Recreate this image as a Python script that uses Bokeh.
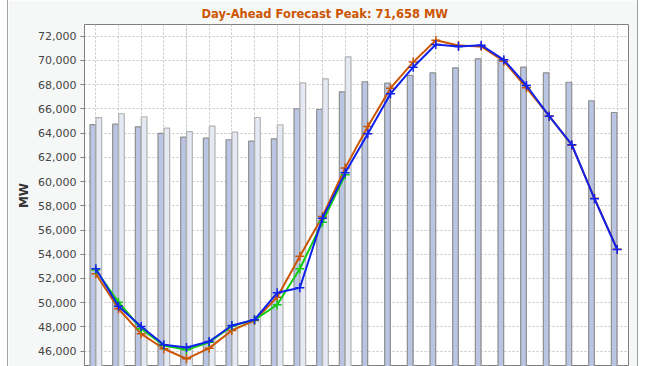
from bokeh.plotting import figure
from bokeh.models import (ColumnDataSource, Range1d, Grid, FixedTicker,
                          NumeralTickFormatter)
from bokeh.transform import dodge
from bokeh.embed import file_html
from bokeh.resources import INLINE

hours = list(range(1, 25))
bar_dark = [64700, 64740, 64520, 63970, 63670, 63580, 63450, 63340, 63530, 66010,
            65950, 67410, 68240, 68120, 68760, 68980, 69390, 70130, 70050, 69450,
            68980, 68200, 66670, 65700]
hours_light = list(range(1, 13))
bar_light = [65270, 65600, 65350, 64410, 64130, 64570, 64080, 65290, 64690, 68150,
             68480, 70300]
forecast_orange = [52390, 49500, 47430, 46200, 45370, 46250, 47710, 48530, 50460, 53840,
                   57120, 61130, 64550, 67710, 69860, 71658, 71230, 71150, 69940, 67740,
                   65420, 63000, 58620, 54420]
forecast_blue = [52800, 49710, 48040, 46530, 46300, 46800, 48120, 48590, 50820, 51230,
                 56980, 60720, 63940, 67250, 69440, 71320, 71150, 71260, 70050, 67930,
                 65400, 63040, 58580, 54390]
hours_green = list(range(1, 13))
actual_green = [52700, 50040, 47850, 46470, 46110, 46740, 48070, 48590, 49830, 52800,
                56650, 60560]
y_ticks = list(range(46000, 72001, 2000))
title_text = "Day-Ahead Forecast Peak:  71,658 MW"

FONT = "DejaVu Sans"

p = figure(width=631, height=366,
           x_range=Range1d(0.5, 24.5), y_range=Range1d(44735, 72965),
           output_backend="svg", toolbar_location=None,
           x_axis_location=None,
           title=title_text, title_location="above",
           min_border_left=76, min_border_right=11, min_border_top=24,
           min_border_bottom=0,
           background_fill_color="white", border_fill_color="#f6f8f8",
           outline_line_color="#808080", outline_line_width=1)
p.styles = {"margin-left": "7px",
            "border-left": "1px solid #9ca3a8", "border-right": "1px solid #9ca3a8"}

p.title.text_font = FONT
p.title.text_font_style = "bold"
p.title.text_font_size = "11.5px"
p.title.text_color = "#cc5500"
p.title.align = "left"
p.title.offset = 117
p.title.standoff = 7
p.title.vertical_align = "bottom"

# grids
p.ygrid.ticker = FixedTicker(ticks=y_ticks)
p.ygrid.grid_line_color = "#c4c4c4"
p.ygrid.grid_line_dash = "2 2"
p.add_layout(Grid(dimension=0, ticker=FixedTicker(ticks=hours),
                  grid_line_color="#c4c4c4", grid_line_dash="2 2"))

# y axis
ax = p.yaxis[0]
ax.ticker = FixedTicker(ticks=y_ticks)
ax.formatter = NumeralTickFormatter(format="0,0")
ax.axis_label = "MW"
ax.axis_label_text_font = FONT
ax.axis_label_text_font_style = "bold"
ax.axis_label_text_font_size = "12px"
ax.axis_label_text_color = "#333333"
ax.axis_label_standoff = 4
ax.major_label_text_font = FONT
ax.major_label_text_font_size = "11px"
ax.major_label_text_color = "#444444"
ax.major_label_standoff = 4
ax.major_tick_out = 4
ax.major_tick_in = 0
ax.minor_tick_out = 0
ax.minor_tick_in = 0
ax.axis_line_color = "#808080"
ax.major_tick_line_color = "#808080"

src_dark = ColumnDataSource(dict(hour=hours, val=bar_dark))
src_light = ColumnDataSource(dict(hour=hours_light, val=bar_light))

p.vbar(x=dodge("hour", -0.132, range=p.x_range), width=0.25, top="val", bottom=40000,
       source=src_dark, fill_color="#b9c5e2", line_color="#8e8e8e", line_width=1.2)
p.vbar(x=dodge("hour", 0.132, range=p.x_range), width=0.25, top="val", bottom=40000,
       source=src_light, fill_color="#e4e9f4", line_color="#b2b2b2", line_width=1.2)

series = [(hours, forecast_orange, "#cc5500"),
          (hours_green, actual_green, "#11cc11"),
          (hours, forecast_blue, "#1122ee")]
for xs, ys, col in series:
    s = ColumnDataSource(dict(hour=xs, val=ys))
    p.line("hour", "val", source=s, line_color=col, line_width=2)
    p.scatter("hour", "val", source=s, marker="cross", size=9,
              line_color=col, line_width=1.5)

open("out.html", "w").write(file_html(p, INLINE))
